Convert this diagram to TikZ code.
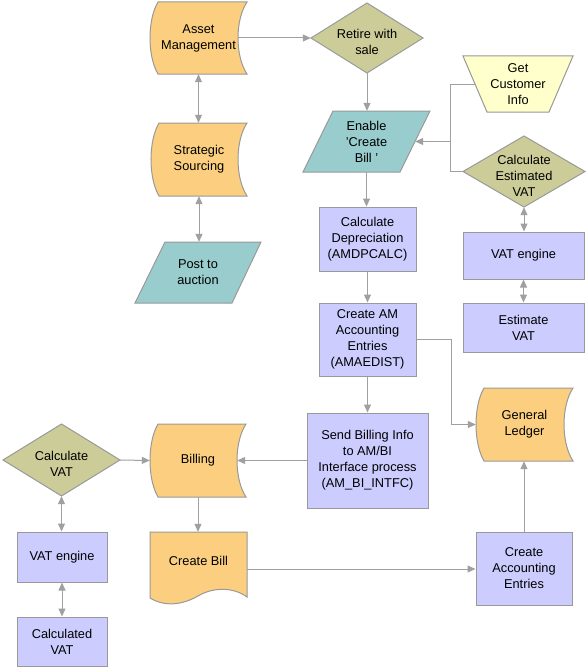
\documentclass[tikz,border=0pt]{standalone}
\usepackage{fontspec}
\setmainfont{Liberation Sans}
\usetikzlibrary{arrows.meta}
\definecolor{orng}{RGB}{251,207,127}
\definecolor{khaki}{RGB}{204,204,153}
\definecolor{tealc}{RGB}{153,204,204}
\definecolor{lav}{RGB}{204,204,255}
\definecolor{ylw}{RGB}{255,255,204}
\definecolor{bord}{RGB}{153,153,153}
\definecolor{lnc}{RGB}{160,160,160}
\newcommand\stdshape[4]{\draw[shp,fill=orng] ({#1+8},#2) -- (#3,#2) .. controls ({#3-12},{#2+(#4-#2)/4}) and ({#3-12},{#4-(#4-#2)/4}) .. (#3,#4) -- ({#1+8},#4) .. controls ({#1-2.67},{#4-(#4-#2)/4}) and ({#1-2.67},{#2+(#4-#2)/4}) .. ({#1+8},#2) -- cycle;}
\begin{document}
\begin{tikzpicture}[x=1pt,y=-1pt,
  shp/.style={draw=bord,line width=1pt,line join=miter},
  txt/.style={draw=none,align=center,inner sep=0pt,font=\fontsize{12.8pt}{16pt}\selectfont},
  sz/.style 2 args={minimum width=#1,minimum height=#2},
  rbox/.style={txt,draw=bord,fill=lav,line width=1pt},
  dtxt/.style={label={[txt,yshift=-4pt]center:#1}},
  ln/.style={draw=lnc,line width=1pt},
  arr/.style={ln,-{Triangle[length=8pt,width=7pt]}},
  darr/.style={ln,{Triangle[length=8pt,width=7pt]}-{Triangle[length=8pt,width=7pt]}}]
\useasboundingbox (0,0) rectangle (586,669);
% shapes
\stdshape{150}{2}{247}{74}
\stdshape{151}{123}{247}{196}
\stdshape{476}{388}{573}{461}
\stdshape{150}{424}{246}{497}
\draw[shp,fill=khaki] (311,38) -- (367,3) -- (423,38) -- (367,73) -- cycle;
\draw[shp,fill=khaki] (463,171.5) -- (524,136) -- (585,171.5) -- (524,207) -- cycle;
\draw[shp,fill=khaki] (3,460) -- (61.5,424) -- (120,460) -- (61.5,496) -- cycle;
\draw[shp,fill=tealc] (165,242) -- (261,242) -- (232,303) -- (135,303) -- cycle;
\draw[shp,fill=tealc] (333,111) -- (430,111) -- (400,172) -- (303,172) -- cycle;
\draw[shp,fill=ylw] (463,56) -- (573,56) -- (549,112) -- (487,112) -- cycle;
\draw[shp,fill=orng] (150,532) -- (247,532) -- (247,597) .. controls (235,588) and (215,586) .. (198,596) .. controls (182,605) and (165,607) .. (150,598) -- cycle;
% text nodes
\node[txt,sz={97}{72}] (am) at (198.5,38) {Asset\\Management};
\node[txt,sz={112}{70},dtxt={Retire with\\sale}] (rws) at (367,38) {};
\node[txt,sz={96}{73}] (ss) at (199,159.5) {Strategic\\Sourcing};
\node[txt,sz={126}{61}] (pta) at (198,272.5) {Post to\\auction};
\node[txt,sz={110}{56}] (gci) at (518,84) {Get\\Customer\\Info};
\node[txt,sz={127}{61}] (ecb) at (366.5,141.5) {Enable\\'Create\\Bill '};
\node[txt,sz={122}{71},dtxt={Calculate\\Estimated\\VAT}] (cev) at (524,171.5) {};
\node[rbox,sz={97}{64}] (cd) at (367.5,239) {Calculate\\Depreciation\\(AMDPCALC)};
\node[rbox,sz={121}{47}] (vate1) at (523.5,255.5) {VAT engine};
\node[rbox,sz={121}{49}] (ev) at (523.5,327.5) {Estimate\\VAT};
\node[rbox,sz={97}{73}] (cam) at (367.5,339.5) {Create AM\\Accounting\\Entries\\(AMAEDIST)};
\node[txt,sz={97}{73}] (gl) at (524.5,424.5) {General\\Ledger};
\node[rbox,sz={121}{95}] (sbi) at (367.5,460.5) {Send Billing Info\\to AM/BI\\Interface process\\(AM\_BI\_INTFC)};
\node[txt,sz={96}{73}] (bil) at (198,460.5) {Billing};
\node[txt,sz={117}{72},dtxt={Calculate\\VAT}] (cvat) at (61.5,460) {};
\node[rbox,sz={90}{50}] (vate2) at (62,557) {VAT engine};
\node[rbox,sz={90}{49}] (calcv) at (62,641.5) {Calculated\\VAT};
\node[txt,sz={97}{58}] (cb) at (198.5,561) {Create Bill};
\node[rbox,sz={96}{73}] (cae) at (524,568.5) {Create\\Accounting\\Entries};
\coordinate (j1) at (450,141.5);
\coordinate (j2) at (451,424.5);
% connectors
\draw[arr] ([xshift=-9pt]am.east) -- (rws.west);
\draw[arr] (rws.south) -- (rws.south |- ecb.north);
\draw[darr] (am.south) -- (am.south |- ss.north);
\draw[darr] (ss.south) -- (ss.south |- pta.north);
\draw[ln] ([xshift=12pt]gci.west) -| (j1);
\draw[ln] (cev.west) -| (j1);
\draw[arr] (j1) -- ([xshift=-15pt]ecb.east);
\draw[arr] (ecb.south) -- (ecb.south |- cd.north);
\draw[arr] (cd.south) -- (cam.north);
\draw[darr] (cev.south) -- (cev.south |- vate1.north);
\draw[darr] (vate1.south) -- (ev.north);
\draw[arr] (cam.east) -| (j2) -- (gl.west);
\draw[arr] (cam.south) -- (sbi.north);
\draw[arr] (sbi.west) -- ([xshift=-9pt]bil.east);
\draw[arr] (cvat.east) -- (bil.west);
\draw[darr] (cvat.south) -- (cvat.south |- vate2.north);
\draw[darr] (vate2.south) -- (calcv.north);
\draw[arr] (bil.south) -- (bil.south |- cb.north);
\draw[arr] ([yshift=-8pt]cb.east) -- ([yshift=-8pt]cb.east -| cae.west);
\draw[arr] (cae.north) -- (cae.north |- gl.south);
\end{tikzpicture}
\end{document}
